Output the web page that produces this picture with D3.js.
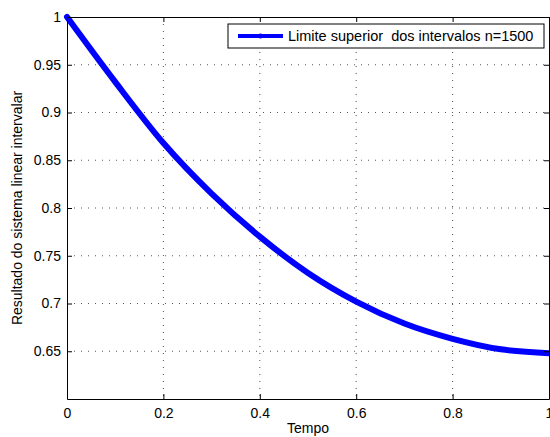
<!DOCTYPE html>
<html lang="en">
<head>
    <meta charset="UTF-8">
    <script src="https://d3js.org/d3.v7.min.js"></script>
    <style>
        body {margin: 0; background-color: #ffffff}
        svg {display: block; font-family: "Liberation Sans", Arial, sans-serif}
        .grid line {stroke: #555; stroke-width: 1; stroke-dasharray: 1,6}
    </style>
</head>
<body>
<svg class="chart" width="550" height="437"></svg>
<script type="text/javascript">
    // curve values
    const tempo = [0, 0.1, 0.2, 0.3, 0.4, 0.5, 0.6, 0.7, 0.8, 0.9, 1.0];
    const limite = [1.0, 0.932, 0.868, 0.815, 0.770, 0.732, 0.702, 0.679, 0.663, 0.652, 0.648];
    const xTicks = [0, 0.2, 0.4, 0.6, 0.8, 1];
    const yTicks = [0.65, 0.7, 0.75, 0.8, 0.85, 0.9, 0.95, 1];
    const legendLabel = 'Limite superior  dos intervalos n=1500';

    let plotLeft = 67, plotRight = 549, plotTop = 17, plotBottom = 399;

    let x = d3.scaleLinear().domain([0, 1]).range([plotLeft, plotRight]);
    let y = d3.scaleLinear().domain([0.6, 1]).range([plotBottom, plotTop]);

    let svg = d3.select('.chart');

    // dotted grid
    let grid = svg.append('g').attr('class', 'grid');
    grid.selectAll('.gx')
        .data(xTicks.slice(1, -1))
        .enter()
        .append('line')
        .attr('x1', d => x(d)).attr('x2', d => x(d))
        .attr('y1', plotTop).attr('y2', plotBottom);
    grid.selectAll('.gy')
        .data(yTicks.slice(0, -1))
        .enter()
        .append('line')
        .attr('x1', plotLeft).attr('x2', plotRight)
        .attr('y1', d => y(d)).attr('y2', d => y(d));

    // the curve
    let line = d3.line()
        .x((d, i) => x(tempo[i]))
        .y(d => y(d))
        .curve(d3.curveMonotoneX);

    svg.append('path')
        .datum(limite)
        .attr('d', line)
        .attr('fill', 'none')
        .attr('stroke', '#0000ff')
        .attr('stroke-width', 6)
        .attr('stroke-linecap', 'round')
        .attr('stroke-linejoin', 'round');

    // axes, MATLAB style box with inward ticks
    let xAxis = d3.axisBottom(x).tickValues(xTicks).tickSizeInner(-5).tickSizeOuter(0).tickPadding(9)
        .tickFormat(d3.format('~g'));
    let yAxis = d3.axisLeft(y).tickValues(yTicks).tickSizeInner(-5).tickSizeOuter(0).tickPadding(6)
        .tickFormat(d3.format('~g'));

    let gx = svg.append('g').attr('transform', 'translate(0,' + plotBottom + ')').call(xAxis);
    let gy = svg.append('g').attr('transform', 'translate(' + plotLeft + ',0)').call(yAxis);
    let gxTop = svg.append('g').attr('transform', 'translate(0,' + plotTop + ')')
        .call(d3.axisTop(x).tickValues(xTicks).tickSizeInner(-5).tickSizeOuter(0).tickFormat(''));
    let gyRight = svg.append('g').attr('transform', 'translate(' + plotRight + ',0)')
        .call(d3.axisRight(y).tickValues(yTicks).tickSizeInner(-5).tickSizeOuter(0).tickFormat(''));

    [gx, gy, gxTop, gyRight].forEach(function (g) {
        g.select('.domain').attr('stroke', '#000').attr('stroke-width', 1);
        g.selectAll('.tick line').attr('stroke', '#000');
        g.selectAll('text').attr('fill', '#000').style('font-size', '14px')
            .style('font-family', '"Liberation Sans", Arial, sans-serif');
    });

    // axis titles
    svg.append('text')
        .attr('x', (plotLeft + plotRight) / 2).attr('y', 433)
        .attr('text-anchor', 'middle')
        .style('font-size', '14px')
        .text('Tempo');

    svg.append('text')
        .attr('transform', 'translate(22,' + (plotTop + plotBottom) / 2 + ') rotate(-90)')
        .attr('text-anchor', 'middle')
        .style('font-size', '14px')
        .text('Resultado do sistema linear intervalar');

    // legend
    let legend = svg.append('g');
    legend.append('rect')
        .attr('x', 228).attr('y', 24).attr('width', 316).attr('height', 24)
        .attr('fill', '#fff').attr('stroke', '#000').attr('stroke-width', 1);
    legend.append('line')
        .attr('x1', 238).attr('x2', 283).attr('y1', 36).attr('y2', 36)
        .attr('stroke', '#0000ff').attr('stroke-width', 4);
    legend.append('circle')
        .attr('cx', 260.5).attr('cy', 36).attr('r', 2.5).attr('fill', '#0000ff');
    legend.append('text')
        .attr('x', 288).attr('y', 41)
        .style('font-size', '14.5px')
        .style('white-space', 'pre')
        .text(legendLabel);
</script>
</body>
</html>
